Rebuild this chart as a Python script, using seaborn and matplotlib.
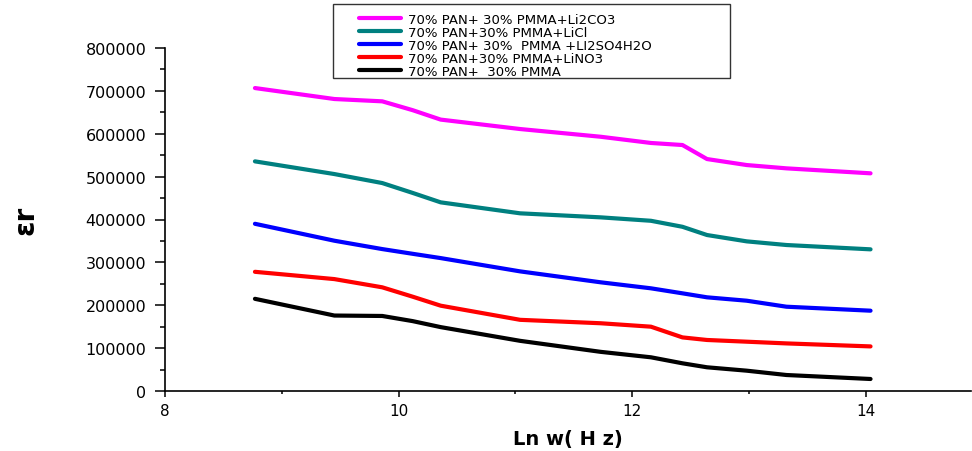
import matplotlib
matplotlib.use("Agg")
import matplotlib.pyplot as plt
from matplotlib.patches import Rectangle
from matplotlib.ticker import MultipleLocator
import numpy as np
import pandas as pd
import seaborn as sns

# Ln(angular frequency) sampling points
ln_w = [8.77, 9.45, 9.86, 10.12, 10.36, 11.04, 11.73, 12.16, 12.43, 12.64, 12.98, 13.32, 14.04]

labels = [
    "70% PAN+ 30% PMMA+Li2CO3",
    "70% PAN+30% PMMA+LiCl",
    "70% PAN+ 30%  PMMA +LI2SO4H2O",
    "70% PAN+30% PMMA+LiNO3",
    "70% PAN+  30% PMMA",
]

eps_li2co3 = [706600, 681000, 675600, 655000, 633000, 611000, 593000, 578500,
              573700, 541000, 527000, 519300, 507700]
eps_licl = [535600, 506000, 485000, 462000, 440000, 414400, 405000, 397000,
            383000, 363800, 349000, 340500, 330400]
eps_li2so4 = [390000, 350500, 331000, 320000, 310000, 279000, 253500, 239500,
              227800, 218500, 210600, 196600, 187300]
eps_lino3 = [278000, 261000, 241800, 220000, 199000, 166000, 158000, 150000,
             125000, 119000, 115000, 111000, 104000]
eps_blend = [215000, 176000, 175000, 163000, 149000, 117000, 91300, 78600,
             64600, 55300, 47400, 37300, 28000]

colors = ["#FF00FF", "#008080", "#0000FF", "#FF0000", "#000000"]

series = [eps_li2co3, eps_licl, eps_li2so4, eps_lino3, eps_blend]
frames = [pd.DataFrame({"ln_w": ln_w, "eps": vals, "sample": lab})
          for lab, vals in zip(labels, series)]
df = pd.concat(frames, ignore_index=True)

sns.set_style("ticks")
plt.rcParams["font.family"] = ["DejaVu Sans"]
plt.rcParams.update({
    "text.color": "black",
    "axes.labelcolor": "black",
    "xtick.color": "black",
    "ytick.color": "black",
})

W, H = 972, 452
fig = plt.figure(figsize=(W / 100, H / 100), dpi=100)
ax = fig.add_axes([165 / W, 1 - 392 / H, (971 - 165) / W, (392 - 49) / H])

sns.lineplot(data=df, x="ln_w", y="eps", hue="sample", hue_order=labels,
             palette=colors, linewidth=3, ax=ax, legend=True, sort=False)

ax.set_xlim(8, 14.9)
ax.set_ylim(0, 800000)
ax.xaxis.set_major_locator(MultipleLocator(2))
ax.xaxis.set_minor_locator(MultipleLocator(1))
ax.yaxis.set_major_locator(MultipleLocator(100000))
ax.yaxis.set_minor_locator(MultipleLocator(50000))

for side in ["top", "right"]:
    ax.spines[side].set_visible(False)
for side in ["left", "bottom"]:
    ax.spines[side].set_linewidth(1.2)
    ax.spines[side].set_color("black")

ax.tick_params(axis="y", which="major", direction="out", length=7.5, width=1.1,
               labelsize=11.5, pad=6)
ax.tick_params(axis="y", which="minor", direction="out", length=3.5, width=1.1)
ax.tick_params(axis="x", which="major", direction="out", length=4.5, width=1.1,
               labelsize=11, pad=4)
ax.tick_params(axis="x", which="minor", direction="out", length=2.5, width=1.1)

ax.set_xlabel("Ln w( H z)", fontsize=14, fontweight="bold", labelpad=8)
ax.set_ylabel("εr", fontsize=20, fontweight="bold", labelpad=33)

# Legend entries without their own frame; the box is drawn separately
handles, _ = ax.get_legend_handles_labels()
leg = ax.legend(handles=handles, labels=labels,
                loc="upper left",
                bbox_to_anchor=(359 / W, 1 - 14 / H),
                bbox_transform=fig.transFigure,
                fontsize=9.5, frameon=False, borderpad=0,
                labelspacing=0.0, handlelength=3.2, handletextpad=0.55,
                borderaxespad=0)
for line in leg.get_lines():
    line.set_linewidth(3)

fig.patches.append(Rectangle((333 / W, 1 - 79 / H), (730 - 333) / W, 74 / H,
                             transform=fig.transFigure, fill=False,
                             edgecolor="#333333", linewidth=1.0, zorder=5))

fig.savefig("out.png", dpi=100)
